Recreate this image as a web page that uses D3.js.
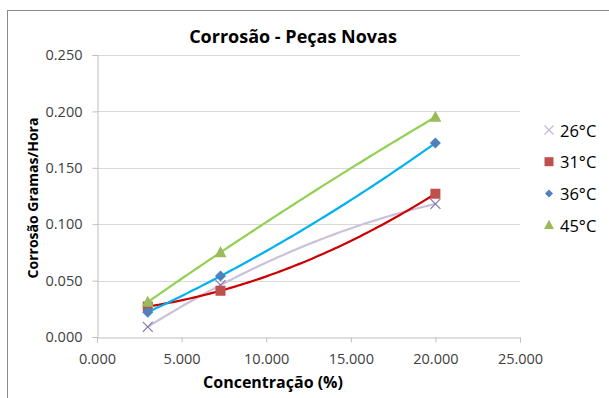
<!DOCTYPE html>
<html>
<head>
<meta charset="utf-8">
<script src="https://cdn.jsdelivr.net/npm/d3@7"></script>
<style>
  html, body { margin: 0; padding: 0; background: #fff; }
  svg { display: block; font-family: "Open Sans", "Noto Sans", sans-serif; }
</style>
</head>
<body>
<svg id="chart" width="609" height="398"></svg>
<script>
// Concentration (%) at which each temperature series was measured
const concentration = [3.0, 7.3, 20.0];

// Corrosion rate (grams/hour) per temperature
const series26 = [0.009, 0.046, 0.118];
const series31 = [0.027, 0.041, 0.127];
const series36 = [0.022, 0.054, 0.172];
const series45 = [0.031, 0.075, 0.195];

const seriesNames = ["26°C", "31°C", "36°C", "45°C"];

const xTicks = [0, 5, 10, 15, 20, 25];
const yTicks = [0, 0.05, 0.10, 0.15, 0.20, 0.25];

const chartTitle = "Corrosão - Peças Novas";
const xTitle = "Concentração (%)";
const yTitle = "Corrosão Gramas/Hora";

const styles = [
  { line: "#ccc1da", marker: "#8e78b4", shape: "x" },
  { line: "#cc0000", marker: "#c0504d", shape: "square" },
  { line: "#00b0f0", marker: "#4f81bd", shape: "diamond" },
  { line: "#92d050", marker: "#9bbb59", shape: "triangle" }
];

const data = [series26, series31, series36, series45].map((vals, i) => ({
  name: seriesNames[i],
  style: styles[i],
  points: vals.map((v, j) => ({ x: concentration[j], y: v }))
}));

// Second-order polynomial trendline: the parabola through the three readings
function quadraticTrend(points, steps) {
  const [p0, p1, p2] = points;
  const f = t =>
    p0.y * ((t - p1.x) * (t - p2.x)) / ((p0.x - p1.x) * (p0.x - p2.x)) +
    p1.y * ((t - p0.x) * (t - p2.x)) / ((p1.x - p0.x) * (p1.x - p2.x)) +
    p2.y * ((t - p0.x) * (t - p1.x)) / ((p2.x - p0.x) * (p2.x - p1.x));
  const x0 = p0.x, x1 = p2.x;
  return d3.range(steps + 1).map(i => {
    const t = x0 + (x1 - x0) * i / steps;
    return { x: t, y: f(t) };
  });
}

const svg = d3.select("#chart");

// Chart frame
svg.append("rect")
  .attr("x", 7.5).attr("y", 10.5)
  .attr("width", 640).attr("height", 420)
  .attr("fill", "#fff")
  .attr("stroke", "#8a8a8a").attr("stroke-width", 1);

const plot = { left: 97, right: 520, top: 55, bottom: 337 };

const x = d3.scaleLinear().domain([0, 25]).range([plot.left, plot.right]);
const y = d3.scaleLinear().domain([0, 0.25]).range([plot.bottom, plot.top]);

// Horizontal gridlines
svg.append("g")
  .selectAll("line")
  .data(yTicks.filter(t => t > 0))
  .join("line")
  .attr("x1", plot.left).attr("x2", plot.right)
  .attr("y1", d => Math.round(y(d)) + 0.5).attr("y2", d => Math.round(y(d)) + 0.5)
  .attr("stroke", "#d9d9d9").attr("stroke-width", 1);

// Axes
const xAxis = svg.append("g")
  .attr("transform", `translate(0,${plot.bottom + 0.5})`)
  .call(d3.axisBottom(x).tickValues(xTicks).tickSize(5).tickPadding(8)
    .tickFormat(d3.format(".3f")));
const yAxis = svg.append("g")
  .attr("transform", `translate(${plot.left + 0.5},0)`)
  .call(d3.axisLeft(y).tickValues(yTicks).tickSize(5).tickPadding(10)
    .tickFormat(d3.format(".3f")));

[xAxis, yAxis].forEach(ax => {
  ax.select(".domain").attr("stroke", "#bfbfbf");
  ax.selectAll(".tick line").attr("stroke", "#bfbfbf");
  ax.selectAll(".tick text")
    .attr("fill", "#404040")
    .style("font-size", "14.5px")
    .style("font-family", "\"Open Sans\", sans-serif");
});
xAxis.selectAll(".tick text").attr("dy", "0.9em");

// Marker shapes
function drawMarker(g, shape, color, size) {
  const s = size / 2;
  if (shape === "x") {
    g.append("path")
      .attr("d", `M${-s},${-s}L${s},${s}M${-s},${s}L${s},${-s}`)
      .attr("stroke", color).attr("stroke-width", 1.3).attr("fill", "none");
  } else if (shape === "square") {
    g.append("rect")
      .attr("x", -s).attr("y", -s).attr("width", size).attr("height", size)
      .attr("fill", color);
  } else if (shape === "diamond") {
    g.append("path")
      .attr("d", `M0,${-s}L${s},0L0,${s}L${-s},0Z`)
      .attr("fill", color);
  } else {
    g.append("path")
      .attr("d", `M0,${-s * 1.05}L${s},${s * 0.8}L${-s},${s * 0.8}Z`)
      .attr("fill", color);
  }
}

const line = d3.line()
  .x(d => x(d.x)).y(d => y(d.y));

data.forEach(s => {
  const g = svg.append("g");
  g.append("path")
    .datum(quadraticTrend(s.points, 80))
    .attr("d", line)
    .attr("fill", "none")
    .attr("stroke", s.style.line)
    .attr("stroke-width", 2.2)
    .attr("stroke-linecap", "round");
  s.points.forEach(p => {
    const m = g.append("g").attr("transform", `translate(${x(p.x)},${y(p.y)})`);
    const size = s.style.shape === "triangle" ? 12 : s.style.shape === "diamond" ? 11 : 10;
    drawMarker(m, s.style.shape, s.style.marker, size);
  });
});

// Titles
svg.append("text")
  .attr("x", 293).attr("y", 36)
  .attr("text-anchor", "middle").attr("dominant-baseline", "central")
  .attr("font-weight", "bold").attr("font-size", 18)
  .attr("fill", "#000")
  .text(chartTitle);

svg.append("text")
  .attr("x", 273).attr("y", 382)
  .attr("text-anchor", "middle").attr("dominant-baseline", "central")
  .attr("font-weight", "bold").attr("font-size", 16)
  .attr("fill", "#000")
  .text(xTitle);

svg.append("text")
  .attr("transform", `translate(32,${(plot.top + plot.bottom) / 2 + 2}) rotate(-90)`)
  .attr("text-anchor", "middle").attr("dominant-baseline", "central")
  .attr("font-weight", "bold").attr("font-size", 14)
  .attr("fill", "#000")
  .text(yTitle);

// Legend
const legend = svg.append("g");
data.forEach((s, i) => {
  const cy = 130 + i * 31.7;
  const m = legend.append("g").attr("transform", `translate(549,${cy})`);
  drawMarker(m, s.style.shape, s.style.shape === "x" ? "#c6b9dc" : s.style.marker,
    s.style.shape === "triangle" ? 10 : s.style.shape === "diamond" ? 8 : 9);
  legend.append("text")
    .attr("x", 560).attr("y", cy)
    .attr("dominant-baseline", "central")
    .attr("font-size", 16.5)
    .attr("fill", "#000")
    .text(s.name);
});
</script>
</body>
</html>
